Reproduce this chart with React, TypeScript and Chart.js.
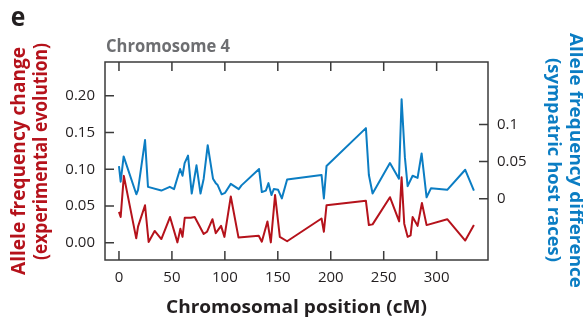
import { useEffect, useRef } from "react";
import { Chart, registerables } from "chart.js";

Chart.register(...registerables);

// ---- data ----
const redPositions = [0, 1.6, 4.6, 16.3, 18, 24.6, 28, 33.7, 40, 48.2, 55.2, 58, 60, 62.1, 67.8, 71.5, 80, 83.2, 88.3, 91.4, 96.4, 99.6, 105.6, 112.9, 132, 134.9, 140.2, 143.4, 147.4, 151.9, 158.8, 191.3, 193.5, 196, 233.2, 236, 239.5, 255.9, 264.6, 266.9, 269.4, 272.6, 275.4, 277.3, 282, 286.1, 290.5, 310, 327, 335.2];
const redValues = [0.042, 0.035, 0.091, 0.006, 0.022, 0.051, 0.001, 0.016, 0.005, 0.035, 0.0005, 0.019, 0.008, 0.034, 0.034, 0.035, 0.012, 0.015, 0.032, 0.013, 0.023, 0.008, 0.063, 0.007, 0.0095, 0.0014, 0.029, 0.0005, 0.065, 0.008, 0.002, 0.033, 0.015, 0.051, 0.057, 0.024, 0.025, 0.062, 0.029, 0.089, 0.026, 0.008, 0.010, 0.035, 0.023, 0.054, 0.024, 0.032, 0.003, 0.024];

const bluePositions = [0, 1.6, 4.4, 16.4, 18, 24.6, 27.4, 40, 48, 52, 57.7, 60, 62, 65.2, 68.7, 73.2, 77, 80, 83.8, 88.8, 91.4, 93, 97, 100.2, 105.6, 113.1, 115.7, 132.3, 134.9, 138.7, 141.2, 144, 146.2, 150.3, 153.8, 158.8, 191.3, 193.5, 196, 233.2, 236, 239.5, 255.9, 264.4, 266.9, 270, 272.6, 277.3, 282, 285.8, 290.5, 294.6, 310, 327, 335.2];
const blueValues = [0.044, 0.023, 0.057, 0.006, 0.012, 0.079, 0.016, 0.011, 0.016, 0.013, 0.040, 0.031, 0.048, 0.058, 0.007, 0.045, 0.007, 0.027, 0.072, 0.027, 0.021, 0.019, 0.006, 0.008, 0.020, 0.013, 0.018, 0.040, 0.009, 0.011, 0.021, 0.005, 0.013, 0.012, 0.0005, 0.026, 0.032, 0.0005, 0.044, 0.095, 0.032, 0.007, 0.048, 0.027, 0.134, 0.056, 0.017, 0.031, 0.028, 0.061, 0.002, 0.014, 0.012, 0.039, 0.011];

const xTicks = [0, 50, 100, 150, 200, 250, 300];
const leftTicks = [0, 0.05, 0.1, 0.15, 0.2];
const leftTickLabels = ["0.00", "0.05", "0.10", "0.15", "0.20"];
const rightTicks = [0, 0.05, 0.1];
const rightTickLabels = ["0", "0.05", "0.1"];

const panelLabel = "e";
const chartTitle = "Chromosome 4";
const leftTitle = ["Allele frequency change", "(experimental evolution)"];
const rightTitle = ["Allele frequency difference", "(sympatric host races)"];
const xTitle = "Chromosomal position (cM)";

const RED = "#b5121b";
const BLUE = "#0b7dc3";
const DARK = "#231f20";
const FONT = "'Open Sans', 'DejaVu Sans', sans-serif";

function drawFitted(
  ctx: CanvasRenderingContext2D,
  text: string,
  x: number,
  y: number,
  width: number,
  rot: number,
  align: CanvasTextAlign,
  font: string,
  color: string
) {
  ctx.save();
  ctx.font = font;
  ctx.fillStyle = color;
  ctx.textAlign = align;
  ctx.textBaseline = "alphabetic";
  ctx.translate(x, y);
  ctx.rotate(rot);
  const w = ctx.measureText(text).width;
  ctx.scale(width / w, 1);
  ctx.fillText(text, 0, 0);
  ctx.restore();
}

const framePlugin = {
  id: "frameAndText",
  afterDraw(chart: any) {
    const ctx: CanvasRenderingContext2D = chart.ctx;
    const { left, right, top, bottom } = chart.chartArea;
    const xs = chart.scales.x;
    const yl = chart.scales.yL;
    const yr = chart.scales.yR;
    const tl = 9;
    ctx.save();
    ctx.strokeStyle = "#3b3b3b";
    ctx.lineWidth = 1.5;
    ctx.beginPath();
    xTicks.forEach((v) => {
      const px = xs.getPixelForValue(v);
      ctx.moveTo(px, bottom);
      ctx.lineTo(px, bottom - tl);
      ctx.moveTo(px, top);
      ctx.lineTo(px, top + tl);
    });
    leftTicks.forEach((v) => {
      const py = yl.getPixelForValue(v);
      ctx.moveTo(left, py);
      ctx.lineTo(left + tl, py);
    });
    rightTicks.forEach((v) => {
      const py = yr.getPixelForValue(v);
      ctx.moveTo(right, py);
      ctx.lineTo(right - tl, py);
    });
    ctx.stroke();
    ctx.strokeRect(left, top, right - left, bottom - top);
    ctx.restore();

    const cx = (left + right) / 2;
    drawFitted(ctx, panelLabel, 10.7, 26, 14.6, 0, "left", `bold 26px ${FONT}`, DARK);
    drawFitted(ctx, chartTitle, left + 1, 52, 124, 0, "left", `bold 17px ${FONT}`, "#6d6e71");
    drawFitted(ctx, leftTitle[0], 25, 161, 228, -Math.PI / 2, "center", `bold 19px ${FONT}`, RED);
    drawFitted(ctx, leftTitle[1], 46.5, 151.5, 217, -Math.PI / 2, "center", `bold 19px ${FONT}`, RED);
    drawFitted(ctx, rightTitle[0], 569.5, 160.5, 255, Math.PI / 2, "center", `bold 18px ${FONT}`, BLUE);
    drawFitted(ctx, rightTitle[1], 547.5, 160, 204, Math.PI / 2, "center", `bold 18px ${FONT}`, BLUE);
    drawFitted(ctx, xTitle, cx, 313.3, 261, 0, "center", `bold 18px ${FONT}`, DARK);
  },
};

export default function App() {
  const ref = useRef<HTMLCanvasElement>(null);
  useEffect(() => {
    const redData = redPositions.map((x, i) => ({ x, y: redValues[i] }));
    const blueData = bluePositions.map((x, i) => ({ x, y: blueValues[i] }));
    const tickFont = { family: FONT, size: 15 };
    const chart = new Chart(ref.current as HTMLCanvasElement, {
      type: "line",
      data: {
        datasets: [
          {
            label: leftTitle.join(" "),
            data: redData,
            borderColor: RED,
            borderWidth: 2,
            borderJoinStyle: "round",
            pointRadius: 0,
            fill: false,
            tension: 0,
            xAxisID: "x",
            yAxisID: "yL",
          },
          {
            label: rightTitle.join(" "),
            data: blueData,
            borderColor: BLUE,
            borderWidth: 2,
            borderJoinStyle: "round",
            pointRadius: 0,
            fill: false,
            tension: 0,
            xAxisID: "x",
            yAxisID: "yR",
          },
        ],
      },
      plugins: [framePlugin],
      options: {
        animation: false,
        responsive: false,
        devicePixelRatio: 1,
        layout: { padding: { top: 62, left: 0, right: 0, bottom: 0 } },
        plugins: {
          legend: { display: false },
          tooltip: { enabled: false },
          title: { display: false },
        },
        scales: {
          x: {
            type: "linear",
            min: -13.2,
            max: 348.5,
            grid: { display: false, drawTicks: false },
            border: { display: false },
            afterBuildTicks: (s: any) => {
              s.ticks = xTicks.map((v) => ({ value: v }));
            },
            afterFit: (s: any) => {
              s.height = 62;
            },
            ticks: {
              font: tickFont,
              color: DARK,
              padding: 9,
              maxRotation: 0,
              autoSkip: false,
              callback: (v: any) => String(v),
            },
          },
          yL: {
            type: "linear",
            position: "left",
            min: -0.0235,
            max: 0.246,
            grid: { display: false, drawTicks: false },
            border: { display: false },
            afterBuildTicks: (s: any) => {
              s.ticks = leftTicks.map((v) => ({ value: v }));
            },
            afterFit: (s: any) => {
              s.width = 105;
            },
            ticks: {
              font: tickFont,
              color: DARK,
              padding: 10,
              autoSkip: false,
              callback: (_v: any, i: number) => leftTickLabels[i],
            },
          },
          yR: {
            type: "linear",
            position: "right",
            min: -0.0824,
            max: 0.184,
            grid: { display: false, drawTicks: false },
            border: { display: false },
            afterBuildTicks: (s: any) => {
              s.ticks = rightTicks.map((v) => ({ value: v }));
            },
            afterFit: (s: any) => {
              s.width = 95;
            },
            ticks: {
              font: tickFont,
              color: DARK,
              padding: 9,
              autoSkip: false,
              callback: (_v: any, i: number) => rightTickLabels[i],
            },
          },
        },
      },
    } as any);
    return () => chart.destroy();
  }, []);
  return (
    <div style={{ position: "absolute", left: 0, top: 0, width: 583, height: 322, background: "#fff" }}>
      <canvas ref={ref} width={583} height={322} style={{ display: "block" }} />
    </div>
  );
}
